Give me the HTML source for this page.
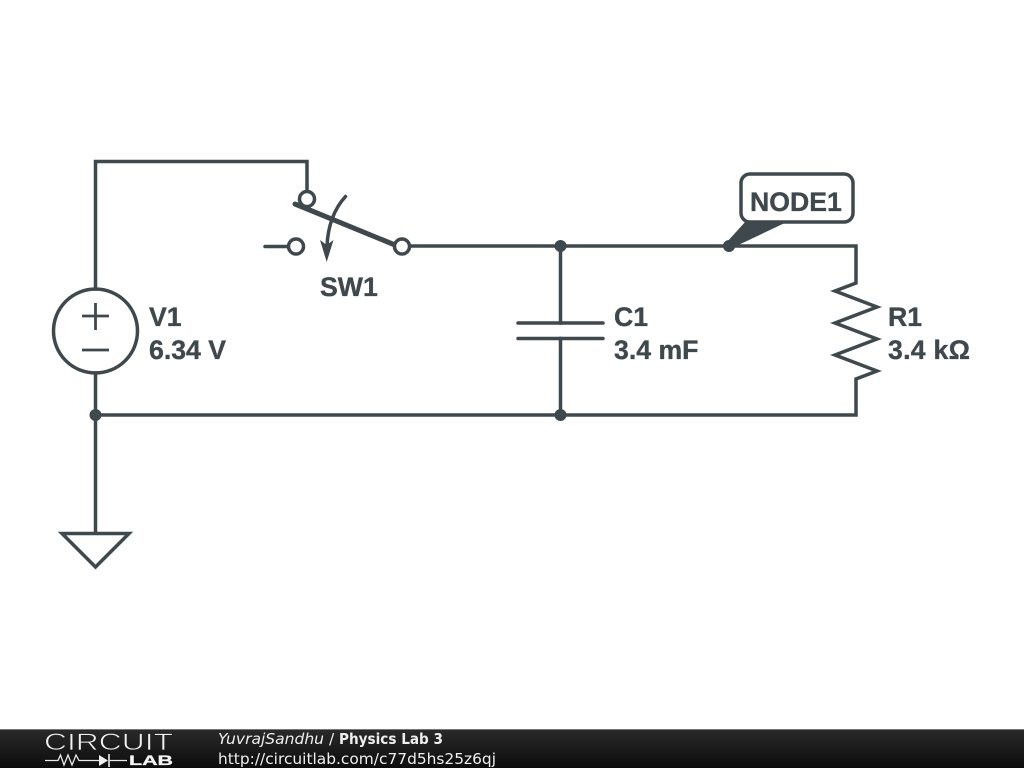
<!DOCTYPE html>
<html>
<head>
<meta charset="utf-8">
<title>Physics Lab 3</title>
<style>
html,body{margin:0;padding:0;background:#fff;width:1024px;height:768px;overflow:hidden}
svg{display:block}
.l{font-family:"Liberation Sans",sans-serif;font-weight:700;font-size:26.67px;fill:#3f484d;stroke:#3f484d;stroke-width:.35px}
.f{font-family:"DejaVu Sans",sans-serif;font-size:15.4px;fill:#eee}
</style>
</head>
<body>
<svg width="1024" height="768" viewBox="0 0 1024 768" xmlns="http://www.w3.org/2000/svg">
<defs>
<linearGradient id="g" x1="0" y1="0" x2="0" y2="1">
<stop offset="0" stop-color="#2a2a2a"/><stop offset="1" stop-color="#0c0c0c"/>
</linearGradient>
</defs>
<rect width="1024" height="768" fill="#fff"/>
<g fill="none" stroke="#3f484d" stroke-width="3.5" stroke-linecap="square" stroke-linejoin="miter">
<path d="M95.500 289V161.500H307V191"/>
<path d="M95.500 373V533"/>
<path d="M95.500 415H856V379L877 371L835 355L877 339L835 323L877 307L835 291L856 283V246H410"/>
<path d="M560.500 246V323"/>
<path d="M560.500 338.500V415"/>
<circle cx="95.500" cy="331" r="42"/>
<path d="M82 316H109M95.500 303V330M82 350H109" stroke-linecap="butt" stroke-width="2.800"/>
<path d="M518 323H603M518 338.500H603" stroke-linecap="round"/>
<path d="M62 533.500H129L95.500 567Z"/>
<path d="M265 246.500H288" stroke-linecap="round"/>
<path d="M345.500 196.500C335 208 328 224 327 246" stroke-linecap="round"/>
</g>
<g fill="#fff" stroke="#3f484d" stroke-width="3.500">
<circle cx="307" cy="199" r="7.500"/>
<circle cx="296" cy="246.500" r="7.500"/>
</g>
<path d="M295 204L395 245" stroke="#3f484d" stroke-width="5" stroke-linecap="round" fill="none"/>
<circle cx="402" cy="246.500" r="7.500" fill="#fff" stroke="#3f484d" stroke-width="3.500"/>
<path d="M320 240L326.700 262L333.500 240L326.700 245Z" fill="#3f484d"/>
<g fill="#3f484d">
<circle cx="95.500" cy="415" r="6"/>
<circle cx="560.500" cy="246" r="6"/>
<circle cx="560.500" cy="415" r="6"/>
<circle cx="729" cy="246" r="6"/>
<path d="M726 243L746 221H789L732 248Z"/>
</g>
<rect x="741" y="174" width="112" height="48" rx="9" ry="9" fill="#fff" stroke="#3f484d" stroke-width="3.500"/>
<text class="l" x="750" y="211">NODE1</text>
<text class="l" x="320" y="296">SW1</text>
<text class="l" x="149" y="326">V1</text>
<text class="l" x="149" y="359">6.34 V</text>
<text class="l" x="614" y="326">C1</text>
<text class="l" x="614" y="359">3.4 mF</text>
<text class="l" x="888" y="326">R1</text>
<text class="l" x="888" y="359" textLength="82" lengthAdjust="spacing">3.4 kΩ</text>
<rect x="0" y="729" width="1024" height="39" fill="url(#g)"/>
<rect x="0" y="729" width="1024" height="1" fill="#777"/>
<text x="44" y="750" font-family="'Liberation Sans',sans-serif" font-size="24" textLength="129" lengthAdjust="spacingAndGlyphs" fill="#f0f0f0" stroke="#202020" stroke-width=".7">CIRCUIT</text>
<path d="M45 760.500H58L60.500 755L64 765L68 755L72 765L76 755L79 760.500H99M110 760.500H127" fill="none" stroke="#e8e8e8" stroke-width="1.300"/>
<path d="M99 755V766L108 760.500Z" fill="#f0f0f0"/>
<path d="M109 754V767" stroke="#f0f0f0" stroke-width="1.600"/>
<text x="129" y="765" font-family="'Liberation Sans',sans-serif" font-size="13.500" font-weight="700" textLength="44" lengthAdjust="spacingAndGlyphs" fill="#f4f4f4" stroke="#f4f4f4" stroke-width=".3">LAB</text>
<text class="f" x="218" y="744" font-style="italic" textLength="106" lengthAdjust="spacingAndGlyphs">YuvrajSandhu</text>
<text class="f" x="329" y="744">/</text>
<text class="f" x="339" y="744" font-weight="700" fill="#fff" textLength="104" lengthAdjust="spacingAndGlyphs">Physics Lab 3</text>
<text class="f" x="218" y="764" textLength="278" lengthAdjust="spacingAndGlyphs">http://circuitlab.com/c77d5hs25z6qj</text>
</svg>
</body>
</html>
